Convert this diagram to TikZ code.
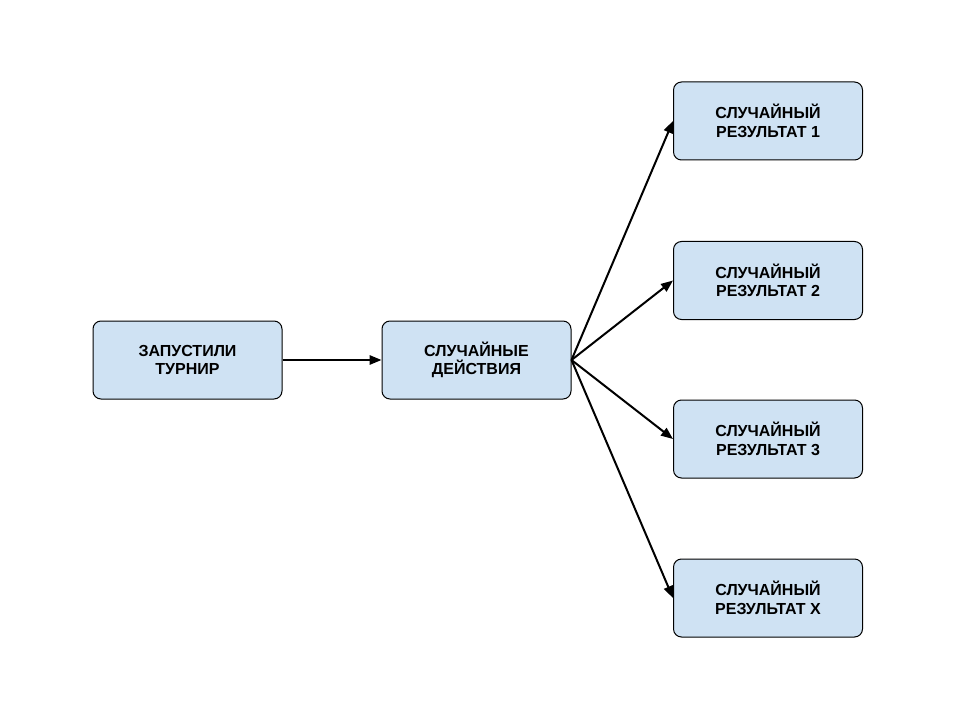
\documentclass[tikz,border=0pt]{standalone}
\usepackage{fontspec}
\setmainfont{Liberation Sans}
\usetikzlibrary{arrows.meta}
\definecolor{boxfill}{HTML}{CFE2F3}
\begin{document}
\begin{tikzpicture}[x=0.75pt,y=-0.75pt,
  box/.style={draw=black,fill=boxfill,rounded corners=6pt,line width=0.75pt,
    minimum width=141.75pt,minimum height=58.5pt,align=center,
    font=\bfseries\fontsize{12}{14}\selectfont},
  conn/.style={-{Triangle[length=9pt,width=7pt]},line width=1.5pt}]
\useasboundingbox (0,0) rectangle (960,720);
\node[box] (a) at (187.5,360) {ЗАПУСТИЛИ\\ТУРНИР};
\node[box] (b) at (476.5,360) {СЛУЧАЙНЫЕ\\ДЕЙСТВИЯ};
\node[box] (r1) at (768,121) {СЛУЧАЙНЫЙ\\РЕЗУЛЬТАТ 1};
\node[box] (r2) at (768,280.5) {СЛУЧАЙНЫЙ\\РЕЗУЛЬТАТ 2};
\node[box] (r3) at (768,439) {СЛУЧАЙНЫЙ\\РЕЗУЛЬТАТ 3};
\node[box] (r4) at (768,598) {СЛУЧАЙНЫЙ\\РЕЗУЛЬТАТ X};
\draw[conn] (a.east) -- (b.west);
\foreach \r in {r1,r2,r3,r4} \draw[conn] (b.east) -- (\r.west);
\end{tikzpicture}
\end{document}
